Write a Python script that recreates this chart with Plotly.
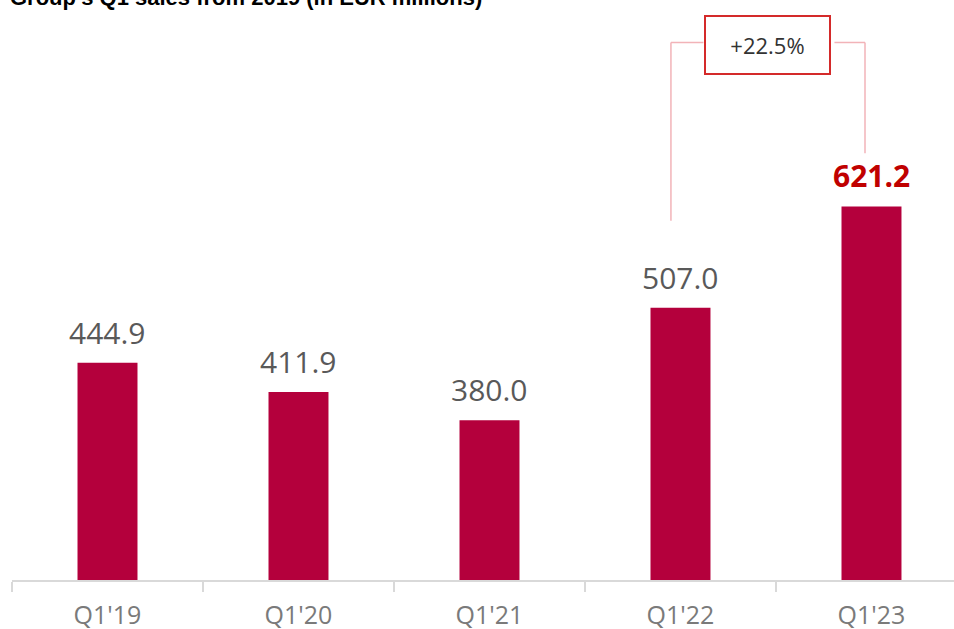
import plotly.graph_objects as go

categories = ["Q1'19", "Q1'20", "Q1'21", "Q1'22", "Q1'23"]
sales = [444.9, 411.9, 380.0, 507.0, 621.2]
growth_label = "+22.5%"
title_text = "Group's Q1 sales from 2019 (in EUR millions)"

BAR = "#b4003c"
GREY = "#595959"
RED = "#c00000"
PINK = "#f2b3b8"

fig = go.Figure()
fig.add_trace(go.Bar(x=categories, y=sales, marker=dict(color=BAR, line=dict(width=0)),
                     width=0.314, hoverinfo="skip"))

ann = []
for i, (c, v) in enumerate(zip(categories, sales)):
    last = i == len(sales) - 1
    ann.append(dict(x=c, y=v, xref="x", yref="y", text=f"{v:.1f}", showarrow=False,
                    yanchor="bottom", yshift=8,
                    font=dict(family="Open Sans", size=30,
                              color=RED if last else GREY,
                              weight="bold" if last else "normal")))

# bracket between Q1'22 and Q1'23
xl, xr = 3 - 0.05, 4 - 0.034
ytop = 806
ann.append(dict(x=(xl + xr) / 2, y=ytop, xref="x", yref="y", yshift=-3, text=growth_label,
                showarrow=False,
                font=dict(family="Open Sans", size=22, color="#333333"),
                bordercolor="#d42a2a", borderwidth=2, bgcolor="white",
                width=123, height=56, borderpad=0))
ann.append(dict(x=-0.0042, y=1.0, xref="paper", yref="paper", text=f"<b>{title_text}</b>",
                showarrow=False, xanchor="left", yanchor="bottom", yshift=-12,
                font=dict(family="Liberation Sans, Arial", size=22, color="black")))

shapes = [
    dict(type="line", xref="x", yref="y", x0=xl, x1=xl, y0=sales[3] + 98, y1=ytop,
         line=dict(color=PINK, width=1.5)),
    dict(type="line", xref="x", yref="y", x0=xl, x1=xl + 0.17, y0=ytop, y1=ytop,
         line=dict(color=PINK, width=1.5)),
    dict(type="line", xref="x", yref="y", x0=xr, x1=xr, y0=sales[4] + 60, y1=ytop,
         line=dict(color=PINK, width=1.5)),
    dict(type="line", xref="x", yref="y", x0=xr - 0.16, x1=xr, y0=ytop, y1=ytop,
         line=dict(color=PINK, width=1.5)),
]

fig.update_layout(
    width=954, height=629,
    margin=dict(l=12, r=0, t=0, b=49, autoexpand=False),
    plot_bgcolor="white", paper_bgcolor="white",
    showlegend=False,
    annotations=ann, shapes=shapes,
    xaxis=dict(range=[-0.5, 4.432], showgrid=False, zeroline=False, automargin=False,
               showline=True, linecolor="#d9d9d9", linewidth=1.5,
               ticks="outside", tickson="boundaries", ticklen=10, tickcolor="#d9d9d9",
               tickwidth=1.5, ticklabelstandoff=12,
               tickfont=dict(family="Open Sans", size=25, color="#7a7a7a")),
    yaxis=dict(range=[200, 853.9], visible=False, showgrid=False, automargin=False),
)
fig.write_html("out.html", config={"displayModeBar": False},
               post_script="document.body.style.margin='0';")
